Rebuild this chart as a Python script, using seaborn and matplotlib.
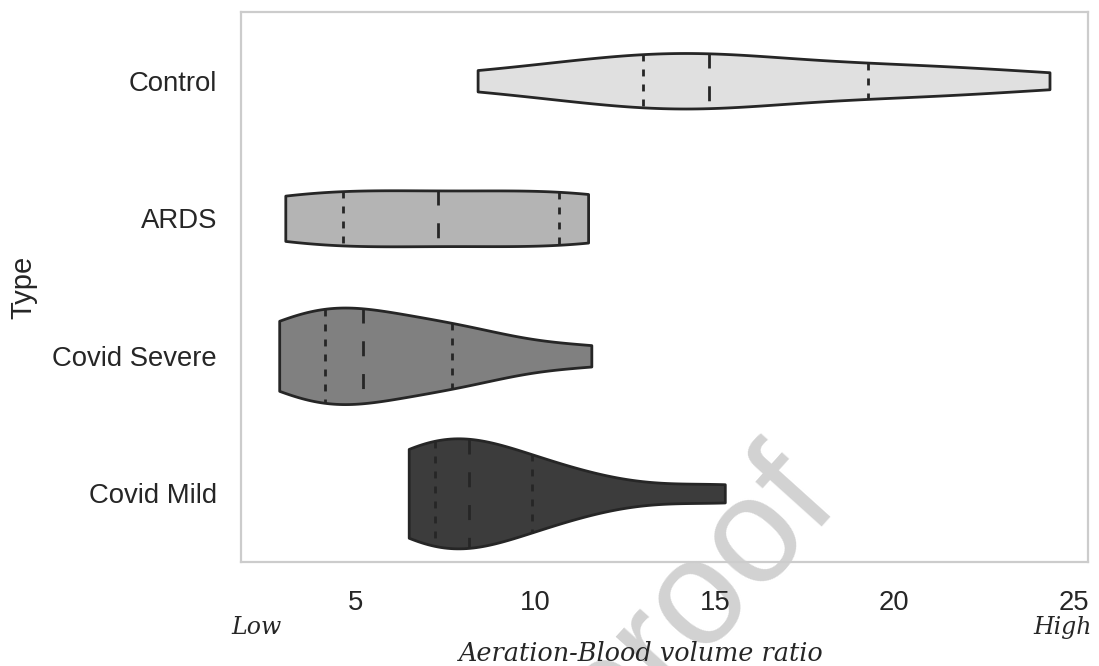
import numpy as np
import pandas as pd
import matplotlib
matplotlib.use("Agg")
import matplotlib.pyplot as plt
import seaborn as sns

# values (aeration-blood volume ratio per patient)
groups = ["Control", "ARDS", "Covid Severe", "Covid Mild"]
control = [8.39, 10.6, 12.2, 13.0, 13.7, 14.3, 14.83, 15.5, 16.8, 19.28, 20.2, 21.6, 24.33]
ards = [3.03, 4.64, 7.28, 10.67, 11.47]
covid_severe = [2.86, 3.4, 4.0, 4.56, 5.0, 5.38, 7.0, 7.9, 8.3, 11.56]
covid_mild = [6.47, 6.9, 7.1, 7.46, 7.9, 8.38, 9.3, 10.09, 11.5, 15.28]
colors = ["#e0e0e0", "#b4b4b4", "#808080", "#3c3c3c"]
xticks = [5, 10, 15, 20, 25]

samples = [control, ards, covid_severe, covid_mild]
df = pd.DataFrame({
    "Type": np.repeat(groups, [len(s) for s in samples]),
    "ratio": np.concatenate(samples),
})

sns.set_style("white")
plt.rcParams["font.family"] = ["Liberation Sans", "DejaVu Sans"]

fig = plt.figure(figsize=(10.99, 6.66), dpi=100)
ax = fig.add_axes([0.219, 0.156, 0.771, 0.826])
ax.patch.set_alpha(0)

lw = 2.0
sns.violinplot(data=df, x="ratio", y="Type", hue="Type", order=groups, hue_order=groups,
               palette=colors, cut=0, inner="quart", common_norm=True, saturation=1,
               linewidth=lw, linecolor="#262626", legend=False, ax=ax)

# quartile lines: short dashes, median: long dashes
for i, line in enumerate(ax.lines):
    line.set_linewidth(lw)
    line.set_dash_capstyle("butt")
    if i % 3 == 1:
        line.set_dashes((5.4, 6.4))
    else:
        line.set_dashes((2.5, 2.9))

for spine in ax.spines.values():
    spine.set_visible(True)
    spine.set_color("#cccccc")
    spine.set_linewidth(1.6)

ax.set_xticks(xticks)
ax.tick_params(axis="x", labelsize=19.8, pad=20, length=0, colors="#262626")
ax.tick_params(axis="y", labelsize=19.8, pad=17, length=0, colors="#262626")
ax.set_ylabel("Type", fontsize=21, labelpad=11, color="#262626")
ax.set_xlabel("")

serif_it = dict(family="DejaVu Serif", style="italic", color="#262626")
ax.text(-0.011, -0.118, "Low", ha="left", va="center", fontsize=17,
        transform=ax.transAxes, **serif_it)
ax.text(1.005, -0.118, "High", ha="right", va="center", fontsize=17,
        transform=ax.transAxes, **serif_it)
ax.text(0.4734, -0.166, "Aeration-Blood volume ratio", ha="center", va="center",
        fontsize=18.4, transform=ax.transAxes, **serif_it)

# watermark of the source page, behind the chart
fig.text(842 / 1099, 1 - 506 / 666, "Journal Pre-proof", fontsize=108, color="#d2d2d2",
         rotation=48, rotation_mode="anchor", ha="right", va="baseline", zorder=-1)

fig.savefig("out.png", dpi=100)
